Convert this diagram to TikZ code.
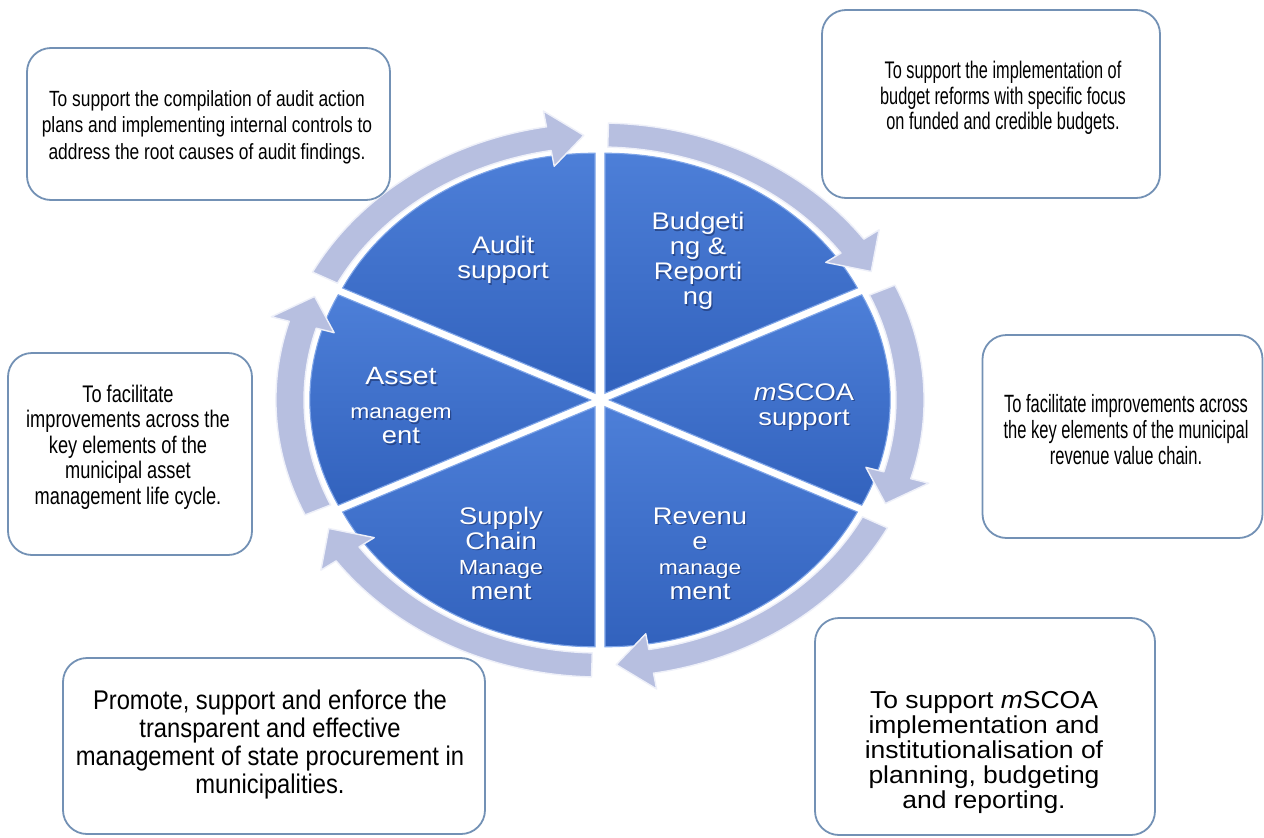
\documentclass[tikz,border=0pt]{standalone}
\usepackage{fontspec}
\setmainfont{Liberation Sans}
% label fonts: Arial metrics, condensed or widened per box
\newfontfamily\wedgefont[FakeStretch=1.14]{Liberation Sans}
\newfontfamily\fontAudit[FakeStretch=0.79]{Liberation Sans}
\newfontfamily\fontBudget[FakeStretch=0.68]{Liberation Sans}
\newfontfamily\fontAsset[FakeStretch=0.76]{Liberation Sans}
\newfontfamily\fontRevenue[FakeStretch=0.66]{Liberation Sans}
\newfontfamily\fontSupply[FakeStretch=0.88]{Liberation Sans}
\newfontfamily\fontMscoa[FakeStretch=1.08]{Liberation Sans}

\definecolor{wedgetop}{HTML}{4D7FD8}
\definecolor{wedgebot}{HTML}{3262BD}
\definecolor{wedgeedge}{HTML}{7FA5E8}
\definecolor{ringfill}{HTML}{B7BFE0}
\definecolor{ringedge}{HTML}{EEF0F9}
\definecolor{boxedge}{HTML}{7391B5}
\definecolor{shadowblue}{HTML}{1A2F66}

\tikzset{
  wedge/.style={top color=wedgetop, bottom color=wedgebot, draw=wedgeedge, line width=1.1pt},
  ringarrow/.style={fill=ringfill, draw=ringedge, line width=1.4pt, line join=round},
  infobox/.style={draw=boxedge, line width=1.8pt, fill=white, rounded corners=24pt,
    inner sep=0pt},
  boxtext/.style={align=center, inner sep=0pt, text=black},
  wlab/.style={align=center, inner sep=0pt, text=white,
    font=\wedgefont\fontsize{24}{25}\selectfont},
  wshade/.style={wlab, text=shadowblue, opacity=0.6, xshift=1.3pt, yshift=-1.3pt}
}

% wedge caption with a soft drop shadow
\newcommand\wedgelabel[3]{%
  \node[wshade] (#1-shadow) at #2 {#3};
  \node[wlab] (#1) at #2 {#3};}

\begin{document}
\begin{tikzpicture}[x=1pt,y=-1pt]
\useasboundingbox (0,0) rectangle (1264,838);
\clip (0,0) rectangle (1264,838);
\fill[white] (0,0) rectangle (1264,838);

% ---------- the six-part cycle ----------
\begin{scope}[shift={(600,400)}, x=1.17pt, y=1pt]
  % exploded pie wedges
  \foreach \a/\b in {90/154, 26/90, -26/26, -90/-26, -154/-90, 154/206} {
    \pgfmathsetmacro\mid{(\a+\b)/2}
    \path[wedge, shift={(\mid:8)}] (0,0) -- (\a:240)
      arc[start angle=\a, end angle=\b, radius=240] -- cycle;
  }
  % clockwise ring of curved arrows (tail angle / tip angle)
  \foreach \t/\h in {152.5/93, 88.5/29, 24.5/-23, -27.5/-87, -91.5/-151, 204.5/157} {
    \pgfmathsetmacro\hb{\h+6.5}
    \path[ringarrow] (\t:277) arc[start angle=\t, end angle=\hb, radius=277]
      -- (\hb:293) -- (\h:265) -- (\hb:237) -- (\hb:253)
      arc[start angle=\hb, end angle=\t, radius=253] -- cycle;
  }
\end{scope}

% ---------- wedge captions ----------
\wedgelabel{audit}{(503,260)}{Audit\\support}
\wedgelabel{budget}{(698,261)}{Budgeti\\ng \&\\Reporti\\ng}
\wedgelabel{mscoa}{(804,407)}{\textit{m}SCOA\\support}
\wedgelabel{revenue}{(700,554)}{Revenu\\e\\\fontsize{20}{24}\selectfont manage\\ment}
\wedgelabel{supply}{(501,553)}{Supply\\Chain\\\fontsize{20.5}{25}\selectfont Manage\\ment}
\wedgelabel{asset}{(401,406)}{\fontsize{25}{25}\selectfont Asset\\[9pt]\fontsize{20}{24}\selectfont managem\\ent}

% ---------- description boxes ----------
\node[infobox, minimum width=363pt, minimum height=152pt] (boxAudit) at (208.5,124) {};
\node[boxtext, font=\fontAudit\fontsize{22}{26.5}\selectfont] (txtAudit) at (207,127)
  {To support the compilation of audit action\\plans and implementing internal controls to\\address the root causes of audit findings.};

\node[infobox, minimum width=338pt, minimum height=188pt] (boxBudget) at (991,104) {};
\node[boxtext, font=\fontBudget\fontsize{24}{25.5}\selectfont] (txtBudget) at (1003,98)
  {To support the implementation of\\budget reforms with specific focus\\on funded and credible budgets.};

\node[infobox, minimum width=244pt, minimum height=202pt] (boxAsset) at (130,454) {};
\node[boxtext, font=\fontAsset\fontsize{24}{25.5}\selectfont] (txtAsset) at (128,447)
  {To facilitate\\improvements across the\\key elements of the\\municipal asset\\management life cycle.};

\node[infobox, minimum width=280pt, minimum height=203pt] (boxRevenue) at (1122.5,436.5) {};
\node[boxtext, font=\fontRevenue\fontsize{25}{26}\selectfont] (txtRevenue) at (1126,430)
  {To facilitate improvements across\\the key elements of the municipal\\revenue value chain.};

\node[infobox, minimum width=422pt, minimum height=176pt] (boxSupply) at (274,746) {};
\node[boxtext, font=\fontSupply\fontsize{27}{28}\selectfont] (txtSupply) at (270,745)
  {Promote, support and enforce the\\transparent and effective\\management of state procurement in\\municipalities.};

\node[infobox, minimum width=340pt, minimum height=217pt] (boxMscoa) at (985,726.5) {};
\node[boxtext, font=\fontMscoa\fontsize{24.5}{25}\selectfont] (txtMscoa) at (984,752)
  {To support \textit{m}SCOA\\implementation and\\institutionalisation of\\planning, budgeting\\and reporting.};
\end{tikzpicture}
\end{document}
